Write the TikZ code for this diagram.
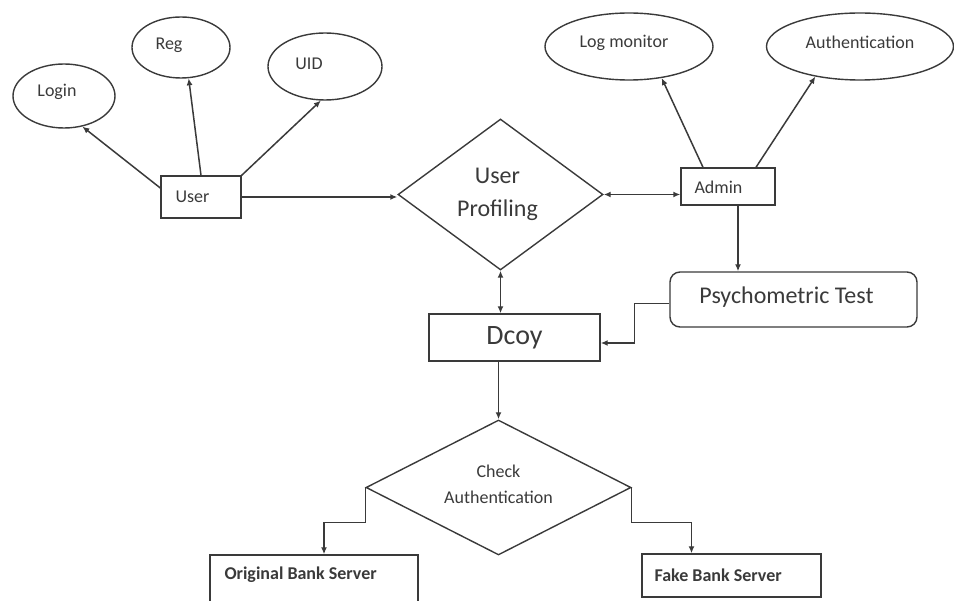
\documentclass[tikz,border=0pt]{standalone}
\usepackage{fontspec}
\setmainfont{Carlito}
\usetikzlibrary{shapes.geometric,arrows.meta,calc}
\definecolor{ink}{HTML}{3A3A3A}
\begin{document}
\begin{tikzpicture}[x=1pt,y=-1pt,
  every node/.style={text=ink},
  line/.style={draw=ink, line width=1.5pt},
  arr/.style={line, -{Latex[length=7pt,width=6pt]}},
  darr/.style={line, {Latex[length=7pt,width=6pt]}-{Latex[length=7pt,width=6pt]}},
  oval/.style={ellipse, draw=ink, line width=1.4pt, inner sep=0pt},
  box/.style={rectangle, draw=ink, line width=1.4pt, inner sep=0pt},
  dia/.style={diamond, draw=ink, line width=1.4pt, inner sep=0pt, align=center},
  small/.style={font=\fontsize{18}{22}\selectfont},
  lbl/.style={small, inner sep=0pt, text=ink},
  blbl/.style={font=\fontsize{18}{22}\selectfont\bfseries, inner sep=0pt, text=ink, anchor=west},
]
\useasboundingbox (0,0) rectangle (954,601);
\clip (0,0) rectangle (954,601);

% ellipses
\node[oval, minimum width=102pt, minimum height=64pt,
  label={[lbl, xshift=-7pt, yshift=4pt]center:Login}] (login) at (64,96) {};
\node[oval, minimum width=98pt, minimum height=61pt,
  label={[lbl, xshift=-12pt, yshift=2pt]center:Reg}] (reg) at (181,47.5) {};
\node[oval, minimum width=114pt, minimum height=67pt,
  label={[lbl, xshift=-16pt, yshift=3pt]center:UID}] (uid) at (325,66.5) {};
\node[oval, minimum width=168pt, minimum height=67pt,
  label={[lbl, xshift=-5pt, yshift=4pt]center:Log monitor}] (logmon) at (629,46.5) {};
\node[oval, minimum width=187pt, minimum height=67pt,
  label={[lbl, yshift=4pt]center:Authentication}] (auth) at (860,46.5) {};

% boxes and decisions
\node[box, minimum width=80pt, minimum height=42pt,
  label={[lbl, anchor=west, xshift=15pt]west:User}] (user) at (201,197) {};
\node[box, minimum width=94pt, minimum height=37pt,
  label={[lbl, anchor=west, xshift=14pt, yshift=-1pt]west:Admin}] (admin) at (728,186.5) {};
\node[dia, minimum width=205pt, minimum height=151pt,
  label={[inner sep=0pt, text=ink, align=center, font=\fontsize{24}{33}\selectfont, xshift=-3pt]center:User\\Profiling}] (up) at (500.5,194.5) {};
\node[box, rounded corners=10pt, minimum width=247pt, minimum height=55pt,
  label={[font=\fontsize{24}{28}\selectfont, inner sep=0pt, text=ink, xshift=-7pt, yshift=2pt]center:Psychometric Test}] (psych) at (793.5,299.5) {};
\node[box, font=\fontsize{28}{32}\selectfont, minimum width=171pt, minimum height=47pt] (dcoy) at (514.5,337.5) {Dcoy};
\node[dia, minimum width=265pt, minimum height=135pt,
  label={[inner sep=0pt, text=ink, align=center, font=\fontsize{18}{26}\selectfont, yshift=3pt]center:Check\\Authentication}] (check) at (498.5,487.5) {};
\node[box, minimum width=208pt, minimum height=57pt,
  label={[blbl, xshift=15pt, yshift=8.5pt]west:Original Bank Server}] (orig) at (314,583.5) {};
\node[box, minimum width=179pt, minimum height=43pt,
  label={[blbl, xshift=13pt]west:Fake Bank Server}] (fake) at (731.5,575.5) {};

% connectors
\draw[arr] ([yshift=9pt]user.west) -- (login.-59);
\draw[arr] (user.north) -- (reg.-76);
\draw[arr] (user.north east) -- (uid.-97);
\draw[arr] (user.east) -- (user.east -| up.west);
\draw[arr] ([xshift=-25pt]admin.north) -- (logmon.-44);
\draw[arr] ([xshift=28pt]admin.north) -- (auth.-146);
\draw[darr] (up.east) -- (up.east -| admin.west);
\draw[darr] (up.south) -- (up.south |- dcoy.north);
\draw[arr] ([xshift=10pt]admin.south) -- ([xshift=10pt]admin.south |- psych.north);
\draw[arr] ([yshift=-4pt]psych.west) -- ++(-35,0) |- ([yshift=-5.5pt]dcoy.east);
\draw[arr] (dcoy.south -| check.north) -- (check.north);
\draw[arr] (check.west) -- ++(0,35) -| ([xshift=10pt]orig.north);
\draw[arr] (check.east) -- ++(0,35) -| ([xshift=-40pt]fake.north);
\end{tikzpicture}
\end{document}
